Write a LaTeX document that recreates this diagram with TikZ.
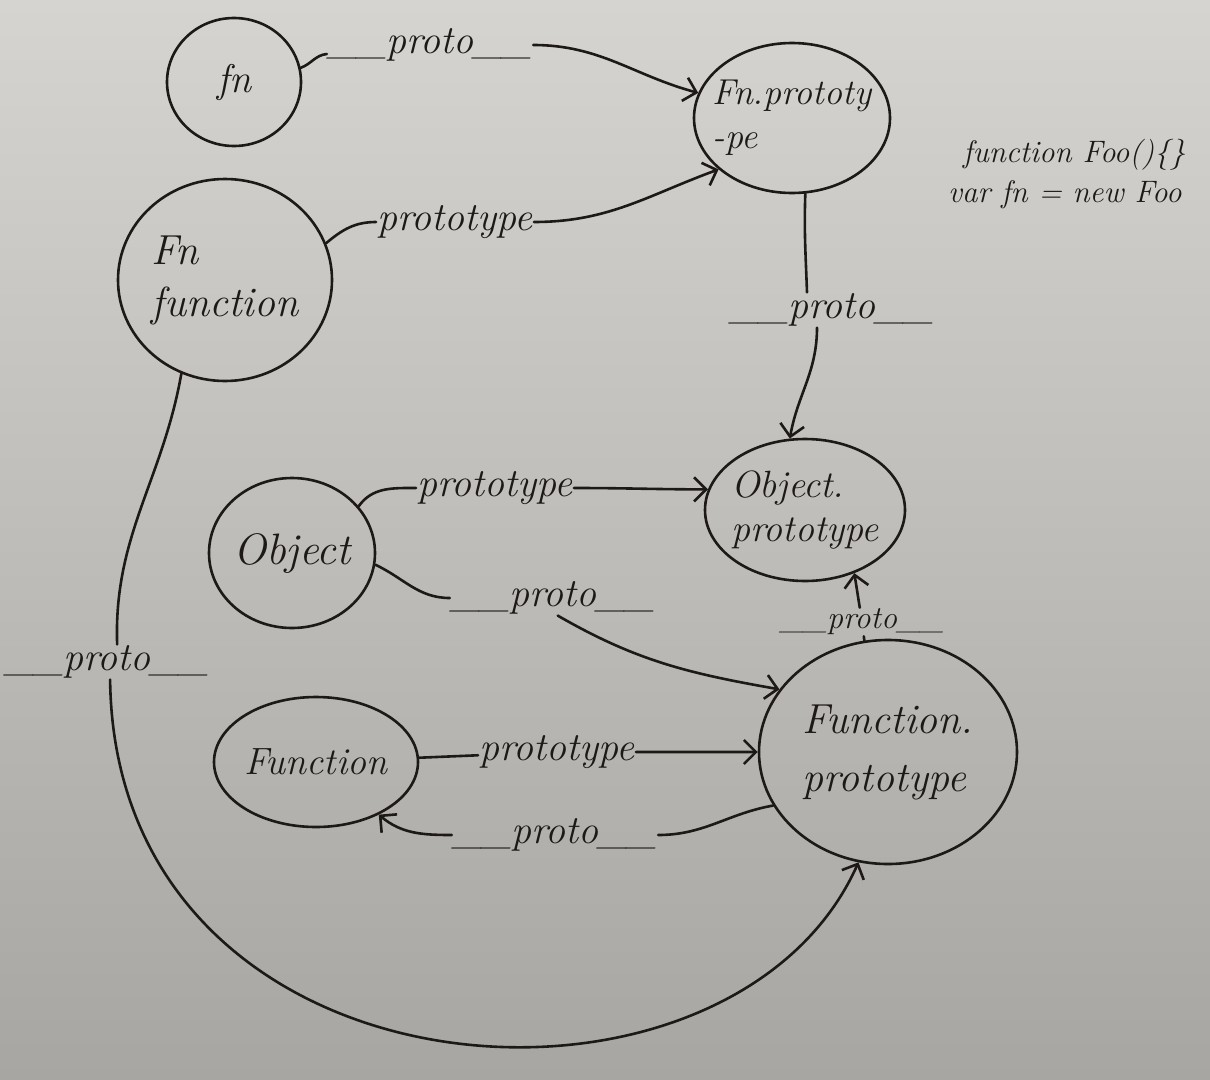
\documentclass[tikz,border=0pt]{standalone}
\usetikzlibrary{shapes.geometric,arrows.meta}
\definecolor{paperTop}{RGB}{214,212,208}
\definecolor{paperBot}{RGB}{168,166,162}
\definecolor{ink}{RGB}{28,25,23}
\tikzset{
 obj/.style={ellipse, draw=ink, line width=2.6pt, inner sep=0pt, text=ink, font=\fontsize{40}{44}\selectfont\itshape, align=left},
 lbl/.style={inner sep=1pt, text=ink, font=\fontsize{40}{42}\selectfont\itshape},
 code/.style={inner sep=0pt, text=ink, font=\fontsize{31}{33}\selectfont\itshape},
 link/.style={draw=ink, line width=2.6pt, line cap=round},
 arr/.style={link, -{Straight Barb[length=12pt,width=24pt]}}
}
\begin{document}
\begin{tikzpicture}[x=1pt,y=1pt]
\useasboundingbox (0,0) rectangle (1210,-1079);
\shade[top color=paperTop,bottom color=paperBot] (0,0) rectangle (1210,-1079);

% objects
\node[obj, minimum width=134pt, minimum height=128pt] (fn) at (234,-82) {fn};
\node[obj, minimum width=196pt, minimum height=150pt, inner xsep=-16pt, font=\fontsize{36}{44}\selectfont\itshape] (fnp) at (792,-118) {Fn.prototy\\-pe};
\node[obj, minimum width=214pt, minimum height=202pt, inner xsep=-4pt, font=\fontsize{42}{52}\selectfont\itshape] (Fnf) at (225,-280) {Fn\\function};
\node[obj, minimum width=166pt, minimum height=150pt, inner xsep=-4pt, font=\fontsize{44}{48}\selectfont\itshape] (obj) at (292,-553) {Object};
\node[obj, minimum width=200pt, minimum height=142pt, inner xsep=-12pt, font=\fontsize{38}{44}\selectfont\itshape] (objp) at (805,-510) {Object.\\prototype};
\node[obj, minimum width=204pt, minimum height=130pt, font=\fontsize{38}{42}\selectfont\itshape] (func) at (316,-762) {Function};
\node[obj, minimum width=258pt, minimum height=224pt, font=\fontsize{42}{58}\selectfont\itshape] (funcp) at (888,-752) {Function.\\prototype};

% code
\node[code, anchor=west] (c1) at (963,-155) {function Foo()\{\}};
\node[code, anchor=west] (c2) at (948,-195) {var fn = new Foo};

% labels
\node[lbl] (l1) at (430,-45) {\_\_proto\_\_};
\node[lbl] (l2) at (455,-222) {prototype};
\node[lbl] (l3) at (832,-310) {\_\_proto\_\_};
\node[lbl] (l4) at (495,-488) {prototype};
\node[lbl] (l5) at (553,-598) {\_\_proto\_\_};
\node[lbl, font=\fontsize{32}{34}\selectfont\itshape] (l6) at (862,-622) {\_\_proto\_\_};
\node[lbl] (l7) at (557,-752) {prototype};
\node[lbl] (l8) at (555,-835) {\_\_proto\_\_};
\node[lbl] (l9) at (107,-662) {\_\_proto\_\_};

% connectors
\draw[arr] (fn.12) to[out=20,in=185] (l1) to[out=0,in=165] (fnp.165);
\draw[arr] (Fnf.20) to[out=40,in=180] (l2) to[out=0,in=200] (fnp.215);
\draw[arr] (fnp.-80) to[out=-92,in=92] ([xshift=-25pt]l3.north) ([xshift=-15pt]l3.south) to[out=-90,in=80] (objp.102);
\draw[arr] (obj.35) to[out=55,in=180] (l4) to[out=0,in=180] (objp.168);
\draw[arr] (obj.-8) to[out=-25,in=180] (l5) (l5.-75) to[out=-30,in=170] (funcp.150);
\draw[arr] (funcp.102) -- (l6) -- (objp.-52);
\draw[arr] (func) -- (l7) -- (funcp);
\draw[arr] (funcp.205) to[out=190,in=0] (l8) to[out=180,in=-40] (func.-40);
\draw[arr] (Fnf.245) to[out=-100,in=92] (l9.60) (l9.-80) .. controls (115,-1110) and (730,-1150) .. (funcp.-105);
\end{tikzpicture}
\end{document}
